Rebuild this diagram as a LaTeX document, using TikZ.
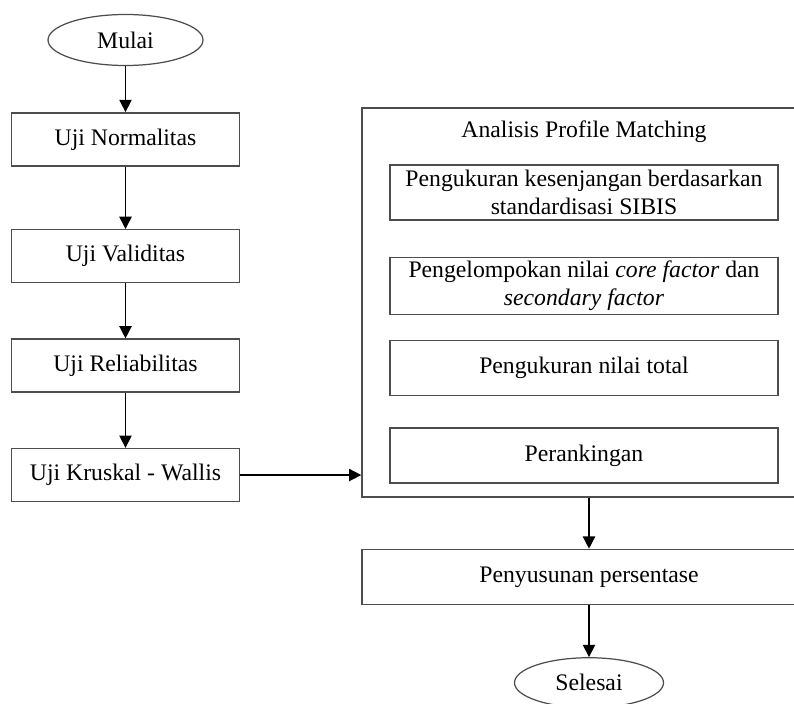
\documentclass[tikz,border=0pt]{standalone}
\usepackage{fontspec}
\setmainfont{Liberation Serif}
\usepackage{xcolor}
\usetikzlibrary{arrows.meta,positioning,shapes.geometric}
\definecolor{BoxLine}{HTML}{4D4D4D}
\tikzset{
  stepbox/.style={
    draw=BoxLine,
    line width=0.8pt,
    align=center,
    font=\fontsize{13.5}{16}\selectfont,
    minimum width=4.56cm,
    minimum height=1.06cm,
    inner sep=2pt
  },
  termbox/.style={
    ellipse,
    draw=BoxLine,
    line width=0.7pt,
    font=\fontsize{13.5}{16}\selectfont,
    minimum width=3.1cm,
    minimum height=1.02cm,
    inner sep=0pt
  },
  arrow/.style={-{Triangle[length=7pt, width=7pt]}, line width=0.8pt}
}
\begin{document}
\begin{tikzpicture}[
  node distance=1.1cm,
  substep/.style={stepbox, minimum width=7.76cm, minimum height=1.1cm},
  bigbox/.style={draw=BoxLine, line width=0.8pt, minimum width=9.08cm, minimum height=7.78cm},
  lbl/.style={font=\fontsize{13.5}{16}\selectfont, inner sep=0pt}
]
\useasboundingbox (0,0) rectangle (15.88,-14.06);
\clip (0,0) rectangle (15.88,-14.06);
% left column
\node[termbox] (mulai) at (2.51,-0.80) {Mulai};
\node[stepbox, below=0.92cm of mulai] (normalitas) {Uji Normalitas};
\node[stepbox, below=1.25cm of normalitas] (validitas) {Uji Validitas};
\node[stepbox, below=of validitas] (reliabilitas) {Uji Reliabilitas};
\node[stepbox, below=of reliabilitas] (kruskal) {Uji Kruskal - Wallis};
% right column
\node[bigbox] (analisis) at (11.78,-6.05) {};
\node[lbl] (judul) at (11.68,-2.64) {Analisis Profile Matching};
\node[substep, below=0.42cm of judul] (kesenjangan) {Pengukuran kesenjangan berdasarkan\\standardisasi SIBIS};
\node[substep, below=0.72cm of kesenjangan] (pengelompokan) {Pengelompokan nilai \textit{core factor} dan\\\textit{secondary factor}};
\node[substep, below=0.5cm of pengelompokan] (total) {Pengukuran nilai total};
\node[substep, below=0.62cm of total] (ranking) {Perankingan};
\node[stepbox, minimum width=9.08cm, minimum height=1.1cm, below=1.02cm of analisis] (persentase) {Penyusunan persentase};
\node[termbox, minimum width=2.98cm, minimum height=1.0cm, below=1.04cm of persentase] (selesai) {Selesai};
% Mulai -> Uji Normalitas -> ... -> Uji Kruskal - Wallis
\draw[arrow] (mulai) -- (normalitas);
\draw[arrow] (normalitas) -- (validitas);
\draw[arrow] (validitas) -- (reliabilitas);
\draw[arrow] (reliabilitas) -- (kruskal);
% Uji Kruskal - Wallis -> Analisis Profile Matching
\draw[arrow] (kruskal.east) -- (kruskal.east -| analisis.west);
% Analisis -> Penyusunan persentase -> Selesai
\draw[arrow] (analisis) -- (persentase);
\draw[arrow] (persentase) -- (selesai);
\end{tikzpicture}
\end{document}
